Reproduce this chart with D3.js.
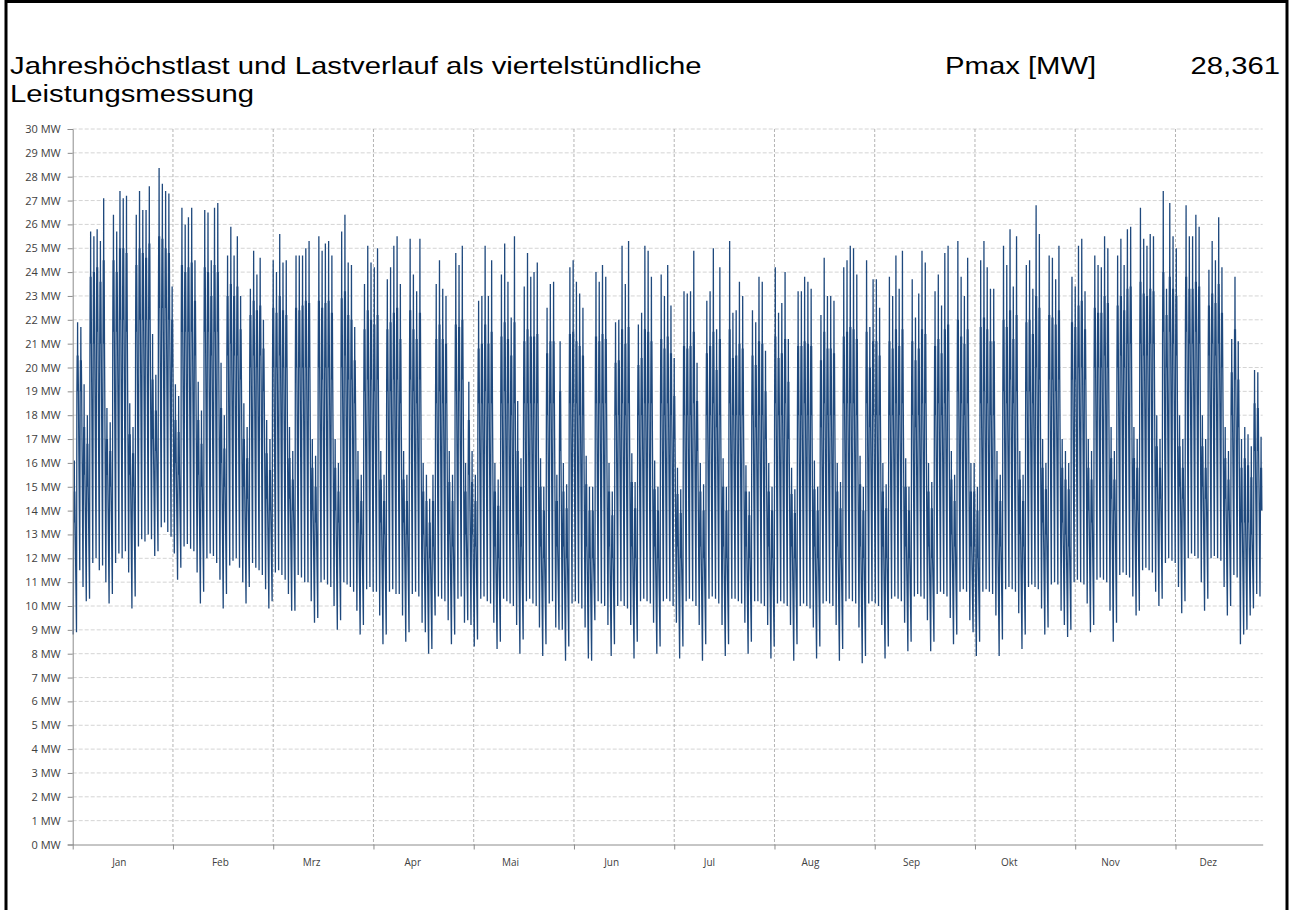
<!DOCTYPE html>
<html>
<head>
<meta charset="utf-8">
<script src="https://cdn.jsdelivr.net/npm/d3@7"></script>
<style>
  body { margin: 0; background: #fff; }
  text { font-family: 'Open Sans', sans-serif; }
</style>
</head>
<body>
<script>
/* Lastgang: per day the early morning low, the typical daytime level,
 * the top of the dense daytime band and the daily peak [MW]
 * one line per week (Mon..Sun), first line starts Wed 1 Jan
 * */
var dayLow = [
  8.8, 8.9, 11.5, 10.8, 10.2,
  10.3, 11.8, 12.0, 11.5, 11.7, 11.0, 10.1,
  10.5, 11.8, 12.2, 12.0, 12.3, 11.4, 9.9,
  10.4, 12.5, 12.8, 12.7, 13.0, 12.8, 12.1,
  12.3, 13.3, 13.5, 13.1, 12.9, 12.2, 11.1,
  11.6, 12.5, 12.6, 12.4, 12.3, 11.4, 10.1,
  10.6, 12.0, 12.2, 12.1, 11.8, 11.1, 9.9,
  10.5, 11.7, 11.9, 12.0, 11.6, 11.0, 10.1,
  10.8, 11.8, 11.6, 11.5, 11.3, 10.7, 9.9,
  10.2, 11.4, 11.5, 11.3, 11.1, 10.5, 9.8,
  9.8, 11.3, 11.2, 11.0, 11.0, 10.2, 9.3,
  9.5, 11.0, 11.1, 10.9, 10.8, 10.0, 9.0,
  9.4, 11.0, 10.9, 10.8, 10.6, 9.8, 8.8,
  9.2, 10.7, 10.8, 10.6, 10.6, 9.6, 8.4,
  8.8, 10.6, 10.7, 10.5, 10.5, 9.6, 8.5,
  8.9, 10.5, 10.6, 10.4, 9.3, 8.9, 8.0,
  8.2, 9.6, 10.4, 10.3, 10.2, 9.4, 8.4,
  8.8, 10.3, 10.4, 9.3, 9.4, 9.2, 8.3,
  8.6, 10.3, 10.4, 10.2, 10.1, 9.3, 8.2,
  8.5, 10.3, 10.2, 10.1, 10.0, 9.2, 8.0,
  8.6, 10.2, 10.3, 10.1, 10.0, 9.1, 7.9,
  8.4, 10.1, 10.2, 9.1, 9.0, 9.0, 7.7,
  8.3, 10.1, 10.2, 10.1, 9.9, 9.1, 7.8,
  7.7, 9.4, 10.2, 10.1, 10.0, 9.2, 7.9,
  8.4, 10.0, 10.2, 10.0, 9.9, 9.2, 7.8,
  8.5, 10.2, 10.3, 10.2, 10.1, 9.3, 8.0,
  8.3, 10.2, 10.3, 10.2, 10.0, 9.3, 7.8,
  8.3, 10.2, 10.3, 10.2, 10.0, 9.2, 7.7,
  8.4, 10.3, 10.4, 10.3, 10.1, 9.2, 7.9,
  8.4, 10.3, 10.3, 10.2, 10.1, 9.3, 8.0,
  8.5, 10.2, 10.2, 10.1, 10.0, 9.2, 7.8,
  8.3, 10.1, 10.2, 10.1, 10.0, 9.2, 7.7,
  8.4, 10.0, 10.1, 10.0, 9.9, 9.1, 7.8,
  8.3, 10.1, 10.2, 10.1, 10.0, 9.2, 7.7,
  8.2, 10.2, 10.3, 10.2, 10.1, 9.1, 7.6,
  7.9, 10.1, 10.2, 10.1, 10.0, 9.2, 7.8,
  8.3, 10.3, 10.4, 10.3, 10.2, 9.3, 8.1,
  8.5, 10.4, 10.5, 10.4, 10.3, 9.4, 8.1,
  8.5, 10.5, 10.6, 10.5, 10.4, 9.5, 8.4,
  8.8, 10.6, 10.7, 10.6, 9.4, 8.9, 7.9,
  8.5, 10.6, 10.7, 10.6, 10.5, 9.6, 7.9,
  8.6, 10.7, 10.8, 10.7, 10.6, 9.7, 8.2,
  8.8, 10.8, 10.9, 10.8, 10.7, 9.9, 8.8,
  9.1, 10.9, 11.0, 10.9, 9.8, 9.2, 8.7,
  9.0, 11.0, 11.1, 11.0, 10.9, 10.1, 8.9,
  9.2, 11.1, 11.2, 11.1, 11.0, 9.8, 8.5,
  9.3, 11.3, 11.4, 11.3, 11.2, 10.4, 9.6,
  9.8, 11.5, 11.6, 11.5, 11.4, 10.6, 10.0,
  10.3, 11.8, 12.0, 11.9, 11.8, 10.8, 9.7,
  10.2, 12.0, 12.2, 12.1, 12.0, 11.0, 9.8,
  10.3, 12.0, 12.1, 12.0, 11.9, 10.8, 9.6,
  10.0, 11.3, 11.2, 8.4, 8.8, 9.0, 9.6,
  9.9, 10.5, 10.4
];

var dayMid = [
  13.5, 19.0, 19.0, 15.5, 15.0,
  21.0, 21.0, 21.5, 21.0, 21.0, 15.5, 15.0,
  21.5, 21.5, 22.0, 22.0, 21.5, 15.5, 15.0,
  21.5, 22.0, 22.0, 22.0, 22.0, 17.0, 16.5,
  22.5, 22.5, 22.5, 22.0, 20.0, 16.0, 15.5,
  21.5, 21.5, 21.5, 21.5, 20.5, 15.5, 15.0,
  21.5, 21.5, 20.5, 21.5, 21.5, 16.0, 15.0,
  20.5, 21.0, 20.5, 20.5, 19.5, 15.0, 14.5,
  20.0, 20.5, 20.0, 20.5, 19.0, 14.5, 14.0,
  20.0, 20.0, 20.5, 20.0, 20.0, 14.5, 14.0,
  20.0, 20.0, 20.0, 20.0, 20.0, 14.0, 13.5,
  20.0, 19.5, 20.0, 20.0, 19.5, 14.0, 13.5,
  20.0, 20.5, 19.5, 19.5, 18.5, 13.5, 13.0,
  19.0, 19.5, 19.5, 19.0, 19.5, 13.5, 13.0,
  19.0, 19.0, 19.5, 19.5, 18.5, 13.5, 13.0,
  19.5, 19.0, 18.5, 19.5, 13.0, 12.5, 12.0,
  12.5, 18.5, 19.0, 18.5, 18.5, 13.0, 12.5,
  19.0, 19.0, 19.5, 13.0, 15.5, 13.0, 12.5,
  18.5, 18.5, 19.0, 18.5, 18.5, 12.5, 12.0,
  18.5, 19.0, 18.5, 18.0, 18.5, 13.0, 12.5,
  18.5, 18.5, 18.5, 18.5, 18.5, 12.5, 12.0,
  18.0, 18.5, 18.5, 12.5, 16.5, 12.5, 12.0,
  18.5, 18.5, 18.5, 18.0, 18.0, 12.5, 12.0,
  12.0, 18.5, 18.5, 18.5, 18.5, 12.5, 12.0,
  18.0, 18.0, 18.5, 18.0, 18.5, 12.5, 12.0,
  18.0, 18.0, 18.5, 18.5, 18.5, 12.5, 12.0,
  18.5, 18.0, 18.5, 18.0, 17.0, 12.5, 12.0,
  18.0, 18.0, 18.0, 18.5, 16.5, 12.5, 12.0,
  18.0, 18.0, 18.5, 17.5, 18.0, 12.5, 12.0,
  18.5, 18.0, 18.0, 18.0, 18.0, 12.5, 12.0,
  18.0, 17.5, 18.0, 18.0, 17.0, 12.5, 12.0,
  18.5, 18.0, 18.0, 18.5, 17.0, 12.5, 12.0,
  18.0, 18.0, 18.5, 18.0, 18.0, 12.5, 12.0,
  17.5, 18.5, 18.0, 18.0, 18.0, 12.5, 12.0,
  18.5, 18.5, 18.5, 18.5, 18.0, 12.5, 12.0,
  18.5, 17.5, 18.0, 18.0, 18.0, 12.5, 12.0,
  18.0, 18.0, 18.5, 18.0, 18.5, 12.5, 12.0,
  18.0, 17.5, 18.0, 18.5, 18.5, 12.5, 12.0,
  18.0, 18.5, 18.0, 18.5, 19.0, 13.0, 12.5,
  19.0, 18.5, 18.0, 18.5, 12.5, 12.5, 12.0,
  18.5, 19.0, 18.5, 18.0, 18.0, 13.0, 12.5,
  19.0, 18.5, 19.5, 18.5, 19.0, 13.0, 12.5,
  19.0, 19.0, 18.5, 20.0, 19.5, 13.5, 13.0,
  19.5, 19.5, 19.0, 19.5, 13.5, 13.0, 12.5,
  19.5, 19.5, 20.0, 20.0, 19.5, 14.0, 13.5,
  20.0, 20.0, 20.0, 20.5, 20.0, 14.5, 14.0,
  20.0, 20.5, 20.0, 21.0, 21.0, 14.5, 14.0,
  21.0, 20.5, 20.5, 21.0, 21.0, 15.0, 14.5,
  21.5, 20.0, 21.5, 21.0, 20.5, 15.0, 14.5,
  21.5, 21.0, 21.0, 21.5, 21.0, 15.0, 14.5,
  20.5, 21.0, 20.5, 21.0, 20.0, 14.5, 14.0,
  18.0, 19.5, 17.5, 13.5, 13.5, 13.5, 13.0,
  16.5, 16.5, 14.0
];

var dayUpper = [
  14.8, 20.5, 20.3, 17.5, 16.8,
  23.8, 24.0, 24.2, 23.6, 24.5, 17.0, 16.5,
  24.5, 24.0, 25.0, 25.0, 24.8, 17.2, 16.4,
  24.3, 25.0, 24.8, 24.6, 25.2, 19.5, 18.2,
  25.5, 25.4, 25.0, 24.8, 22.0, 17.8, 17.3,
  24.3, 24.0, 24.2, 24.4, 22.8, 17.8, 16.8,
  24.2, 24.0, 23.0, 24.3, 24.0, 18.3, 16.6,
  23.0, 23.5, 23.0, 23.4, 21.6, 17.0, 16.2,
  22.2, 22.8, 22.4, 22.6, 20.8, 16.4, 15.7,
  22.5, 22.3, 23.0, 22.4, 22.2, 16.2, 15.3,
  22.5, 22.4, 22.6, 22.8, 22.7, 15.8, 15.0,
  22.8, 22.5, 22.7, 22.8, 22.3, 15.8, 14.8,
  22.9, 23.2, 22.2, 22.0, 20.3, 15.3, 14.4,
  21.6, 22.4, 22.0, 21.8, 22.2, 15.3, 14.4,
  21.6, 21.9, 22.3, 22.5, 21.2, 15.3, 14.4,
  22.4, 21.6, 21.2, 22.3, 14.8, 14.4, 13.5,
  14.4, 21.2, 21.8, 21.2, 21.0, 15.2, 14.4,
  21.8, 21.7, 22.0, 14.8, 17.8, 15.2, 14.4,
  20.8, 21.0, 21.8, 21.0, 21.5, 14.8, 14.2,
  21.3, 21.9, 21.2, 20.5, 21.9, 16.5, 15.0,
  21.1, 21.6, 21.3, 21.3, 21.4, 15.0, 14.0,
  20.6, 21.1, 21.1, 14.4, 19.0, 14.8, 14.1,
  21.4, 21.5, 21.1, 20.9, 20.5, 15.1, 14.0,
  14.0, 21.3, 21.1, 21.4, 21.2, 14.8, 13.8,
  20.2, 20.3, 21.6, 21.0, 21.7, 15.2, 14.1,
  20.1, 20.4, 21.6, 21.5, 21.1, 14.9, 14.0,
  21.2, 20.8, 21.3, 20.6, 18.8, 14.7, 13.9,
  20.9, 20.8, 20.9, 21.5, 18.6, 14.8, 14.0,
  20.6, 20.9, 21.5, 19.9, 21.2, 15.0, 14.0,
  21.6, 20.4, 20.5, 21.0, 20.8, 14.8, 13.8,
  20.5, 20.1, 21.1, 21.0, 19.0, 14.8, 14.0,
  21.3, 20.4, 20.6, 21.2, 19.4, 14.7, 13.9,
  20.9, 20.9, 21.1, 21.0, 20.9, 14.9, 14.0,
  20.3, 21.5, 20.8, 20.8, 20.6, 14.8, 14.1,
  21.3, 21.5, 21.7, 21.6, 21.2, 15.1, 14.0,
  21.5, 20.0, 21.1, 21.1, 20.5, 14.8, 14.1,
  21.1, 20.8, 21.6, 20.9, 21.6, 15.0, 14.0,
  21.1, 20.3, 20.8, 21.6, 21.4, 14.8, 14.1,
  20.9, 21.2, 20.6, 21.6, 21.8, 15.3, 14.4,
  22.0, 21.3, 21.0, 21.6, 14.8, 14.8, 14.0,
  21.7, 22.1, 21.6, 21.1, 21.1, 15.3, 14.4,
  22.0, 21.7, 22.4, 21.2, 22.2, 15.3, 14.4,
  21.9, 22.0, 21.4, 23.0, 22.5, 15.8, 14.9,
  22.2, 22.1, 21.8, 22.4, 15.8, 15.3, 14.9,
  21.9, 21.7, 22.6, 22.8, 21.6, 15.8, 15.3,
  22.5, 22.3, 22.3, 23.0, 22.7, 16.2, 15.3,
  22.6, 23.0, 22.4, 23.3, 23.4, 16.2, 15.8,
  23.6, 23.1, 23.0, 23.3, 23.2, 16.7, 15.8,
  24.0, 22.2, 23.8, 23.3, 23.0, 16.7, 15.8,
  23.8, 23.3, 23.3, 23.6, 23.4, 16.7, 15.8,
  22.6, 23.1, 22.7, 23.5, 22.3, 16.2, 15.3,
  19.8, 21.6, 19.5, 15.8, 16.2, 15.9, 15.4,
  18.5, 18.3, 15.8
];

var dayPeak = [
  16.1, 21.9, 21.7, 19.3, 18.0,
  25.7, 25.5, 25.8, 25.3, 27.1, 18.3, 17.7,
  26.4, 25.7, 27.4, 27.1, 27.2, 18.5, 17.5,
  26.4, 27.4, 26.6, 26.6, 27.6, 21.4, 19.7,
  28.361, 27.7, 27.4, 27.3, 23.4, 19.3, 18.8,
  26.7, 26.0, 26.3, 26.7, 24.5, 19.4, 18.2,
  26.6, 26.5, 24.5, 26.7, 26.9, 20.2, 18.0,
  24.7, 25.9, 24.7, 25.5, 23.0, 18.5, 17.5,
  23.3, 24.9, 23.9, 24.6, 22.0, 17.8, 17.0,
  24.5, 24.0, 25.6, 24.4, 24.5, 17.5, 16.5,
  24.7, 24.7, 24.7, 25.0, 25.3, 17.0, 16.3,
  25.5, 24.9, 25.2, 25.3, 24.7, 17.0, 16.0,
  25.7, 26.4, 24.4, 24.3, 21.7, 16.5, 15.5,
  23.5, 25.1, 24.4, 24.2, 25.0, 16.5, 15.5,
  23.7, 24.2, 25.1, 25.5, 23.5, 16.5, 15.5,
  25.4, 23.9, 23.2, 25.4, 16.0, 15.5, 14.5,
  15.5, 23.5, 24.5, 23.3, 23.0, 16.5, 15.5,
  24.8, 24.3, 25.1, 16.0, 19.4, 16.5, 15.5,
  22.8, 23.0, 25.1, 23.0, 24.5, 16.0, 15.3,
  23.9, 25.2, 23.6, 22.1, 25.5, 18.6, 16.2,
  23.4, 24.8, 23.8, 24.0, 24.4, 16.2, 15.0,
  22.5, 23.5, 23.6, 15.5, 21.1, 16.0, 15.1,
  24.2, 24.5, 23.6, 23.1, 22.5, 16.3, 15.0,
  15.0, 24.0, 23.6, 24.3, 23.8, 16.0, 14.8,
  21.9, 22.0, 25.1, 23.5, 25.3, 16.4, 15.2,
  21.8, 22.3, 25.1, 24.9, 23.8, 16.1, 15.0,
  23.9, 23.0, 24.3, 22.6, 20.4, 15.8, 14.9,
  23.2, 23.1, 23.2, 24.9, 20.2, 16.0, 15.1,
  22.8, 23.2, 25.0, 21.6, 24.2, 16.2, 15.0,
  25.3, 22.3, 22.4, 23.6, 23.0, 15.9, 14.8,
  22.4, 21.9, 23.8, 23.6, 20.7, 16.0, 15.0,
  24.2, 22.3, 22.7, 24.0, 21.2, 15.8, 14.9,
  23.2, 23.2, 23.8, 23.6, 23.3, 16.1, 15.0,
  22.2, 24.6, 23.0, 23.0, 22.8, 16.0, 15.2,
  24.2, 24.5, 25.1, 25.0, 23.9, 16.3, 15.0,
  24.5, 21.7, 23.7, 23.7, 22.5, 16.0, 15.1,
  23.8, 23.0, 24.7, 23.3, 24.9, 16.2, 15.0,
  23.7, 22.1, 23.1, 24.9, 24.4, 16.0, 15.2,
  23.2, 23.9, 22.6, 24.8, 25.1, 16.5, 15.5,
  25.3, 23.8, 23.0, 24.6, 16.0, 16.0, 15.0,
  24.5, 25.3, 24.2, 23.3, 23.3, 16.5, 15.5,
  25.1, 24.3, 25.8, 23.4, 25.5, 16.5, 15.5,
  24.3, 24.5, 23.3, 26.8, 25.6, 17.0, 16.0,
  24.7, 24.6, 23.7, 25.1, 17.0, 16.5, 16.0,
  23.8, 23.4, 25.1, 25.4, 23.2, 17.0, 16.5,
  24.7, 24.3, 24.2, 25.5, 25.0, 17.5, 16.5,
  24.7, 25.4, 24.3, 25.8, 25.9, 17.5, 17.0,
  26.7, 25.4, 25.1, 25.6, 25.5, 18.0, 17.0,
  27.4, 23.3, 26.9, 25.5, 25.0, 18.0, 17.0,
  26.8, 25.5, 25.5, 26.4, 25.9, 18.0, 17.0,
  24.1, 25.3, 24.5, 26.3, 24.2, 17.5, 16.5,
  21.2, 23.8, 21.1, 17.0, 17.5, 17.2, 16.7,
  19.9, 19.8, 17.1
];

// hour of day of each reading and which daily value it shows
var readingHours = [4, 7, 9, 10.5, 12, 13.5, 15.5, 18];
var readingKinds = ['low', 'mid', 'upper', 'mid', 'peak', 'mid', 'upper', 'mid'];

var monthLabels   = ['Jan', 'Feb', 'Mrz', 'Apr', 'Mai', 'Jun', 'Jul', 'Aug', 'Sep', 'Okt', 'Nov', 'Dez'];
var monthStartDay = [0, 31, 59, 90, 120, 151, 181, 212, 243, 273, 304, 334];
var yTickValues   = [0, 1, 2, 3, 4, 5, 6, 7, 8, 9, 10, 11, 12, 13, 14, 15,
                     16, 17, 18, 19, 20, 21, 22, 23, 24, 25, 26, 27, 28, 29, 30];
var xGridStepDays = 30.75;

var titleLines = ['Jahreshöchstlast und Lastverlauf als viertelstündliche', 'Leistungsmessung'];
var pmaxLabel  = 'Pmax [MW]';
var pmaxValue  = '28,361';


var width = 1293, height = 910;
var plot = { left: 72.7, right: 1262.7, top: 129, bottom: 844.5 };
var titleFont = "'Liberation Sans', Arial, sans-serif";
var titleSize = 24, titleStretch = 1.22;

var svg = d3.select('body').append('svg')
    .attr('width', width)
    .attr('height', height);

// frame
svg.append('rect')
    .attr('x', 6).attr('y', 1.5)
    .attr('width', 1281).attr('height', 960)
    .attr('fill', 'none')
    .attr('stroke', '#000')
    .attr('stroke-width', 3);

// title, drawn a bit wider than the font as in the original export
var title = svg.append('g')
    .attr('transform', 'scale(' + titleStretch + ',1)');

var titleTexts = [
  { s: titleLines[0], x: 10,   y: 74,  anchor: 'start' },
  { s: titleLines[1], x: 10,   y: 102, anchor: 'start' },
  { s: pmaxLabel,     x: 945,  y: 74,  anchor: 'start' },
  { s: pmaxValue,     x: 1280, y: 74,  anchor: 'end' }
];

title.selectAll('text')
  .data(titleTexts)
  .enter().append('text')
    .attr('x', function(t) { return t.x / titleStretch; })
    .attr('y', function(t) { return t.y; })
    .attr('text-anchor', function(t) { return t.anchor; })
    .style('font-family', titleFont)
    .style('font-size', titleSize + 'px')
    .attr('fill', '#000')
    .text(function(t) { return t.s; });

// scales
var x = d3.scaleLinear().domain([0, 365]).range([plot.left, plot.right]);
var y = d3.scaleLinear().domain([0, 30]).range([plot.bottom, plot.top]);

var xGridDays = d3.range(0, 365, xGridStepDays);

// horizontal grid
svg.append('g').selectAll('line')
  .data(yTickValues.filter(function(v) { return v > 0; }))
  .enter().append('line')
    .attr('x1', plot.left).attr('x2', plot.right)
    .attr('y1', function(v) { return y(v); })
    .attr('y2', function(v) { return y(v); })
    .attr('stroke', '#d4d4d4')
    .attr('stroke-dasharray', '4,2');

// vertical grid
svg.append('g').selectAll('line')
  .data(xGridDays.filter(function(d) { return d > 0; }))
  .enter().append('line')
    .attr('x1', function(d) { return x(d); })
    .attr('x2', function(d) { return x(d); })
    .attr('y1', plot.top).attr('y2', plot.bottom)
    .attr('stroke', '#b4b4b4')
    .attr('stroke-dasharray', '3,2');

// load curve
var daily = { low: dayLow, mid: dayMid, upper: dayUpper, peak: dayPeak };
var points = [];
for (var d = 0; d < dayPeak.length; d++) {
  for (var k = 0; k < readingHours.length; k++)
    points.push({ t: d + readingHours[k] / 24, v: daily[readingKinds[k]][d] });
}

var line = d3.line()
    .x(function(p) { return x(p.t); })
    .y(function(p) { return y(p.v); });

svg.append('path')
    .datum(points)
    .attr('d', line)
    .attr('fill', 'none')
    .attr('stroke', '#1f497d')
    .attr('stroke-width', 1.3)
    .attr('stroke-linejoin', 'miter');

// y axis
var yAxis = svg.append('g')
    .attr('transform', 'translate(' + plot.left + ',0)')
    .call(d3.axisLeft(y)
      .tickValues(yTickValues)
      .tickFormat(function(v) { return v + ' MW'; })
      .tickSize(5)
      .tickPadding(7));
yAxis.select('.domain').attr('stroke', '#8c8c8c');
yAxis.selectAll('.tick line').attr('stroke', '#8c8c8c');
yAxis.selectAll('text')
    .style('font-family', "'Open Sans', sans-serif")
    .attr('font-size', 11)
    .attr('fill', '#404040');

// x axis (ticks only, labels drawn per month)
var xAxis = svg.append('g')
    .attr('transform', 'translate(0,' + plot.bottom + ')')
    .call(d3.axisBottom(x)
      .tickValues(xGridDays)
      .tickFormat('')
      .tickSize(5)
      .tickSizeOuter(0));
xAxis.select('.domain').attr('stroke', '#8c8c8c');
xAxis.selectAll('.tick line').attr('stroke', '#8c8c8c');

svg.append('g').selectAll('text')
  .data(monthLabels)
  .enter().append('text')
    .attr('x', function(m, i) { return x(monthStartDay[i] + 14.3); })
    .attr('y', 866)
    .attr('text-anchor', 'middle')
    .attr('font-size', 10)
    .attr('fill', '#404040')
    .text(function(m) { return m; });
</script>
</body>
</html>
